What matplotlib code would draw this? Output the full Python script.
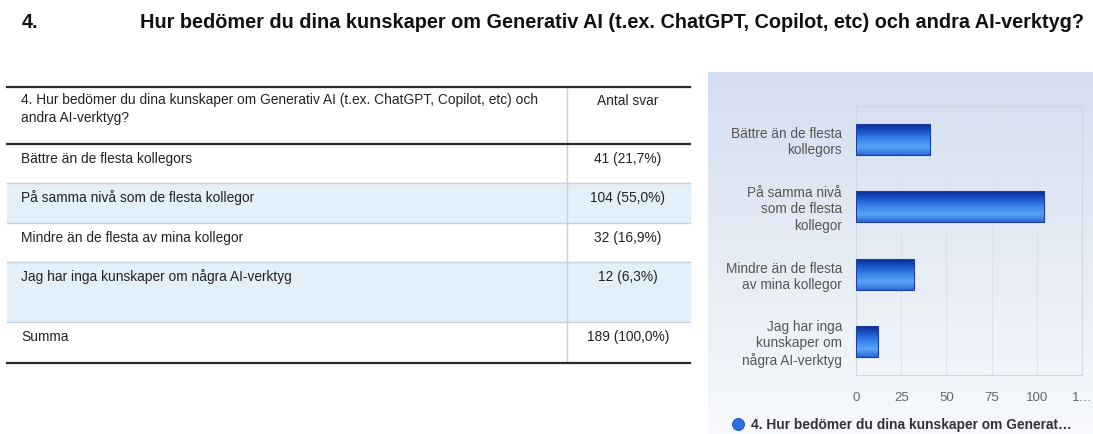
import matplotlib
matplotlib.use("Agg")
import matplotlib.pyplot as plt
import numpy as np
from matplotlib.colors import LinearSegmentedColormap

plt.rcParams["font.family"] = ["Liberation Sans", "DejaVu Sans"]

# data
question = "Hur bedömer du dina kunskaper om Generativ AI (t.ex. ChatGPT, Copilot, etc) och andra AI-verktyg?"
header_q = "4. Hur bedömer du dina kunskaper om Generativ AI (t.ex. ChatGPT, Copilot, etc) och\nandra AI-verktyg?"
categories = ["Bättre än de flesta kollegors",
              "På samma nivå som de flesta kollegor",
              "Mindre än de flesta av mina kollegor",
              "Jag har inga kunskaper om några AI-verktyg"]
chart_labels = ["Bättre än de flesta\nkollegors",
                "På samma nivå\nsom de flesta\nkollegor",
                "Mindre än de flesta\nav mina kollegor",
                "Jag har inga\nkunskaper om\nnågra AI-verktyg"]
counts = [41, 104, 32, 12]
percents = ["21,7%", "55,0%", "16,9%", "6,3%"]
total_label = "189 (100,0%)"
xticks = [0, 25, 50, 75, 100, 125]
xtick_labels = ["0", "25", "50", "75", "100", "1…"]
legend_label = "4. Hur bedömer du dina kunskaper om Generat…"

W, H = 1093, 434
fig = plt.figure(figsize=(W / 100, H / 100), dpi=100)
fig.patch.set_facecolor("white")

# chart panel background gradient
panel = fig.add_axes([708 / W, 0, (W - 708) / W, (H - 72) / H])
grad_bg = LinearSegmentedColormap.from_list("bg", ["#f7f9fc", "#e6ecf5", "#d3def0"])
panel.imshow(np.linspace(0, 1, 256).reshape(-1, 1), cmap=grad_bg, aspect="auto",
             origin="lower", extent=[0, 1, 0, 1])
panel.set_xlim(0, 1)
panel.set_ylim(0, 1)
panel.axis("off")

# pixel-space canvas for title, table and legend
bg = fig.add_axes([0, 0, 1, 1])
bg.patch.set_alpha(0)
bg.set_xlim(0, W)
bg.set_ylim(H, 0)
bg.axis("off")

bg.text(22, 22, "4.", fontsize=14.3, fontweight="bold", va="center", color="#111")
bg.text(140, 22, question, fontsize=14.3, fontweight="bold", va="center", color="#111")

# table
tl, tr, tdiv, tcol = 7, 690, 567, 628
lines_y = [87, 144, 183, 223, 262, 322, 363]
row_bg = ["white", "#e3f0fa", "white", "#e3f0fa", "white"]
for i in range(5):
    bg.fill_between([tl, tr], lines_y[i + 1], lines_y[i + 2], color=row_bg[i], zorder=0)
for i, y in enumerate(lines_y):
    thick = i in (0, 1, len(lines_y) - 1)
    bg.plot([tl, tr], [y, y], color="#2a2a2a" if thick else "#c9d2da",
            lw=1.6 if thick else 1.0, zorder=2)
bg.plot([tdiv, tdiv], [lines_y[0], lines_y[-1]], color="#c9d2da", lw=1.0, zorder=1)

fs = 9.95
bg.text(21, 93, header_q, fontsize=fs, va="top", color="#222", linespacing=1.35)
bg.text(tcol, 101, "Antal svar", fontsize=fs, va="center", ha="center", color="#222")
for i, (cat, n, p) in enumerate(zip(categories, counts, percents)):
    y = lines_y[i + 1] + 15
    bg.text(21, y, cat, fontsize=fs, va="center", color="#222")
    bg.text(tcol, y, f"{n} ({p})", fontsize=fs, va="center", ha="center", color="#222")
bg.text(21, lines_y[5] + 15, "Summa", fontsize=fs, va="center", color="#222")
bg.text(tcol, lines_y[5] + 15, total_label, fontsize=fs, va="center", ha="center", color="#222")

# legend
bg.scatter([738], [424], s=75, color="#2a6fdc", edgecolor="#1a4fb0", lw=0.6, zorder=5)
bg.text(751, 425, legend_label, fontsize=9.9, fontweight="bold", va="center", color="#333", zorder=5)

# chart axes
left, right, top, bottom = 856, 1082, 106, 375
ax = fig.add_axes([left / W, 1 - bottom / H, (right - left) / W, (bottom - top) / H])
ax.patch.set_alpha(0)
ypos = np.arange(len(counts))
bars = ax.barh(ypos, counts, height=0.46, color="none", edgecolor="#1a3f9e", lw=0.8, zorder=3)
bar_cmap = LinearSegmentedColormap.from_list(
    "bar", ["#0a2890", "#1c58cc", "#3a86ec", "#5aa4f8", "#2a68d6"])
grad = np.linspace(0, 1, 128).reshape(-1, 1)
for b in bars:
    x0, y0 = b.get_x(), b.get_y()
    im = ax.imshow(grad, cmap=bar_cmap, aspect="auto", origin="upper",
                   extent=[x0, x0 + b.get_width(), y0 + b.get_height(), y0], zorder=2)
    im.set_clip_path(b)

ax.set_xlim(0, 125)
ax.set_ylim(len(counts) - 0.5, -0.5)
ax.set_xticks(xticks)
ax.set_xticklabels(xtick_labels)
ax.set_yticks(ypos)
ax.set_yticklabels(chart_labels)
ax.grid(axis="x", color="#dde3ea", lw=0.8, zorder=0)
ax.tick_params(length=0, labelsize=9.8, colors="#555", pad=10)
ax.tick_params(axis="x", labelsize=9.5, colors="#666", pad=12)
for s in ax.spines.values():
    s.set_color("#cfd7e2")
    s.set_linewidth(0.8)

fig.savefig("out.png", dpi=100)
